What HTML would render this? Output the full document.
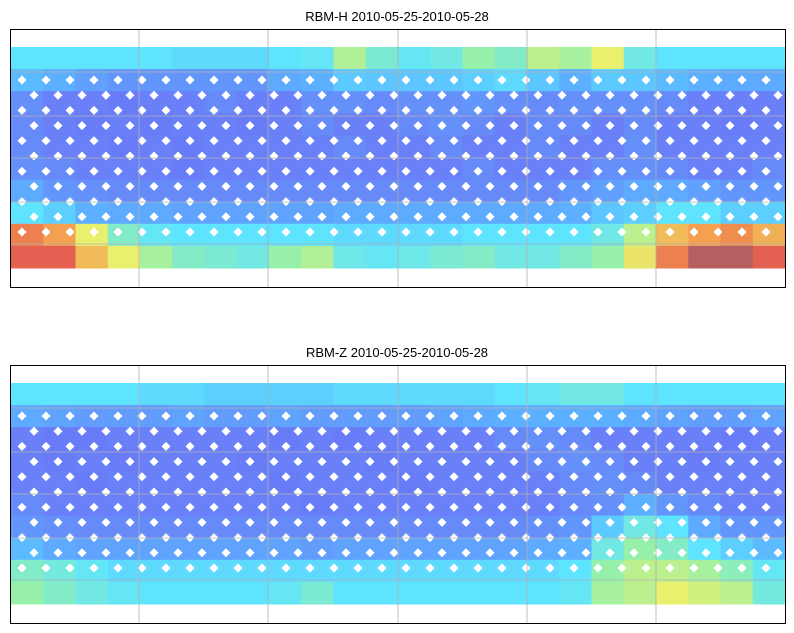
<!DOCTYPE html>
<html><head><meta charset="utf-8">
<style>
html,body{margin:0;padding:0;background:#fff;}
svg{display:block;font-family:"Liberation Sans","DejaVu Sans",sans-serif;}
</style></head>
<body>
<svg id="fig" width="794" height="633" viewBox="0 0 794 633"></svg>
<script>
// Rows of values (0..1), top row = north, 10 rows x 24 columns
const rbmHRows = [
 [.4,.4,.4,.4,.4,.38,.38,.38,.4,.42,.6,.48,.42,.45,.55,.5,.62,.58,.7,.45,.4,.4,.4,.4],
 [.32,.3,.25,.22,.22,.22,.22,.22,.28,.3,.35,.34,.34,.34,.36,.38,.34,.3,.35,.34,.32,.3,.28,.28],
 [.2,.15,.15,.12,.15,.15,.18,.15,.15,.2,.2,.18,.2,.2,.22,.2,.18,.2,.2,.2,.18,.15,.15,.15],
 [.18,.15,.12,.15,.12,.15,.15,.12,.15,.18,.15,.15,.18,.2,.18,.15,.18,.18,.15,.18,.15,.15,.12,.15],
 [.18,.15,.15,.12,.15,.12,.15,.15,.15,.15,.18,.15,.15,.18,.15,.15,.18,.15,.15,.2,.15,.15,.15,.15],
 [.2,.18,.15,.15,.15,.12,.15,.15,.15,.15,.15,.15,.15,.15,.18,.15,.15,.15,.2,.2,.18,.15,.15,.18],
 [.28,.22,.2,.18,.18,.18,.18,.18,.18,.18,.18,.18,.18,.18,.18,.18,.18,.22,.25,.28,.28,.25,.22,.22],
 [.4,.36,.3,.28,.28,.26,.26,.26,.26,.26,.28,.28,.28,.28,.28,.28,.28,.3,.34,.36,.4,.4,.36,.36],
 [.9,.85,.7,.5,.42,.4,.4,.4,.4,.4,.38,.38,.38,.38,.4,.4,.4,.4,.45,.62,.8,.85,.88,.82],
 [.95,.95,.8,.7,.58,.5,.48,.45,.55,.6,.44,.42,.44,.48,.5,.45,.45,.5,.55,.72,.9,1,1,.95]
];
const rbmZRows = [
 [.4,.4,.4,.4,.38,.38,.36,.36,.36,.36,.38,.38,.38,.38,.38,.4,.42,.45,.45,.4,.4,.4,.4,.4],
 [.28,.26,.24,.24,.24,.26,.24,.24,.26,.24,.24,.24,.24,.26,.28,.3,.3,.3,.3,.28,.26,.24,.24,.26],
 [.15,.12,.12,.15,.15,.15,.15,.15,.12,.15,.12,.15,.15,.15,.15,.18,.2,.18,.15,.15,.15,.15,.12,.15],
 [.15,.12,.15,.12,.15,.15,.15,.12,.15,.15,.15,.12,.15,.15,.15,.15,.18,.2,.18,.15,.15,.12,.15,.15],
 [.15,.15,.12,.15,.15,.15,.15,.15,.12,.15,.15,.15,.12,.15,.15,.15,.15,.18,.2,.18,.15,.15,.15,.15],
 [.18,.15,.15,.15,.15,.15,.15,.15,.15,.12,.15,.15,.15,.15,.15,.15,.15,.18,.2,.3,.22,.18,.15,.15],
 [.22,.2,.18,.18,.18,.18,.18,.18,.18,.18,.18,.18,.18,.18,.18,.18,.2,.22,.35,.45,.4,.28,.22,.22],
 [.32,.28,.26,.26,.26,.26,.26,.26,.26,.24,.26,.26,.26,.26,.26,.26,.28,.3,.45,.55,.5,.4,.36,.32],
 [.5,.46,.42,.38,.38,.38,.38,.38,.38,.38,.38,.38,.38,.38,.38,.38,.38,.4,.55,.62,.62,.58,.52,.42],
 [.55,.5,.45,.42,.4,.4,.4,.4,.42,.48,.4,.4,.4,.4,.4,.4,.4,.42,.58,.62,.7,.66,.62,.46]
];
const panelTitles = ["RBM-H 2010-05-25-2010-05-28","RBM-Z 2010-05-25-2010-05-28"];

const NS="http://www.w3.org/2000/svg";
const svg=document.getElementById('fig');
function mk(t,a,p){const e=document.createElementNS(NS,t);for(const k in a)e.setAttribute(k,a[k]);(p||svg).appendChild(e);return e;}
const stops=[[0,[100,110,250]],[.15,[106,128,248]],[.3,[92,176,255]],[.4,[94,228,255]],[.55,[150,240,170]],[.7,[232,240,110]],[.85,[245,160,80]],[.95,[228,96,80]],[1,[180,96,96]]];
function col(v){for(let i=1;i<stops.length;i++){if(v<=stops[i][0]){const a=stops[i-1],b=stops[i];const t=(v-a[0])/(b[0]-a[0]);const c=a[1].map((x,j)=>Math.round(x+(b[1][j]-x)*t));return `rgb(${c})`;}}return `rgb(${stops[stops.length-1][1]})`;}

function panel(rows,title,top,idx){
  const ax={x0:10,x1:785,y0:top,y1:top+258};
  const g=mk('g',{});
  
  
  const t=mk('text',{x:397,y:top-8,'text-anchor':'middle','font-size':13,fill:'#000'},g);
  t.textContent=title;
  
  
  const bandTop=top+18,bandBot=top+239;
  const nr=rows.length,nc=rows[0].length;
  const xs=c=>ax.x0+1+c*(ax.x1-ax.x0-1)/nc;
  const ys=r=>bandTop+r*(bandBot-bandTop)/nr;
  for(let r=0;r<nr;r++)for(let c=0;c<nc;c++){
    const cell=mk('rect',{x:xs(c),y:ys(r),width:xs(c+1)-xs(c)+0.5,height:ys(r+1)-ys(r)+0.5,fill:col(rows[r][c])},g);
    
    
  }
  for(let k=0;k<11;k++){
    const yy=top+51+k*15.2;
    const off=(k%2)?12:0;
    for(let xx=22+off;xx<782;xx+=24){
      mk('path',{d:`M${xx} ${yy-4.5}L${xx+4.5} ${yy}L${xx} ${yy+4.5}L${xx-4.5} ${yy}Z`,fill:'#fff'},g);
    }
  }
  [139,268,398,527,656].forEach(x=>mk('line',{x1:x,x2:x,y1:ax.y0,y2:ax.y1,stroke:'#b0b0b0','stroke-width':0.8},g));
  [43,87,129,173,215].forEach(d=>mk('line',{x1:ax.x0,x2:ax.x1,y1:top+d,y2:top+d,stroke:'#b0b0b0','stroke-width':0.8},g));
  const fr=mk('rect',{x:ax.x0+0.5,y:ax.y0+0.5,width:ax.x1-ax.x0,height:ax.y1-ax.y0,fill:'none',stroke:'#000','stroke-width':1},g);
  
  
}
panel(rbmHRows,panelTitles[0],29,0);
panel(rbmZRows,panelTitles[1],365,1);
</script>
</body></html>
